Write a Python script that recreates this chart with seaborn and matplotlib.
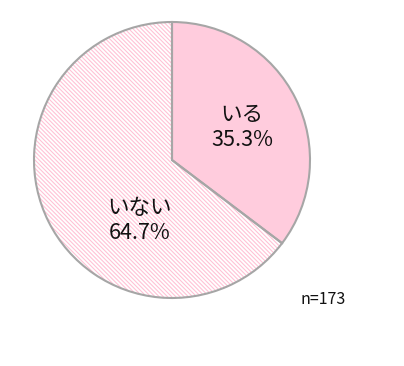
import matplotlib
matplotlib.use("Agg")
import matplotlib.pyplot as plt
import seaborn as sns

categories = ["いる", "いない"]
values = [35.3, 64.7]
pct_labels = ["35.3%", "64.7%"]
n_label = "n=173"

sns.set_theme(style="white")
plt.rcParams['font.family'] = ['Noto Sans CJK JP', 'DejaVu Sans']
plt.rcParams['hatch.linewidth'] = 0.8
plt.rcParams['hatch.color'] = '#ffc2d6'

W, H = 404, 366
fig = plt.figure(figsize=(W / 100, H / 100), dpi=100)
fig.patch.set_facecolor("white")
cx, cy, r = 172, 160, 138
ax = fig.add_axes([(cx - r) / W, (H - cy - r) / H, 2 * r / W, 2 * r / H])

fill_colors = ["#ffccdd", "white"]
wedges, _ = ax.pie(values, startangle=90, counterclock=False, colors=fill_colors,
                   wedgeprops=dict(linewidth=0, edgecolor="#ffc2d6"))
wedges[1].set_hatch("\\\\\\\\\\\\\\\\")
wedges[0].set_edgecolor("#ffccdd")
# outline
ax.pie(values, startangle=90, counterclock=False,
       wedgeprops=dict(facecolor="none", edgecolor="#a6a6a6", linewidth=1.5))

ax.set_xlim(-1, 1)
ax.set_ylim(-1, 1)
ax.set_aspect("equal")
ax.axis("off")

label_pos = [(0.507, 0.235), (-0.232, -0.44)]
for (x, y), cat, pct in zip(label_pos, categories, pct_labels):
    ax.text(x, y, f"{cat}\n{pct}", ha="center", va="center", fontsize=15.5,
            color="#111111", linespacing=1.2)

fig.text(323 / W, 1 - 300 / H, n_label, ha="center", va="center", fontsize=11.5, color="#111111")

fig.savefig("out.png", dpi=100, facecolor="white")
